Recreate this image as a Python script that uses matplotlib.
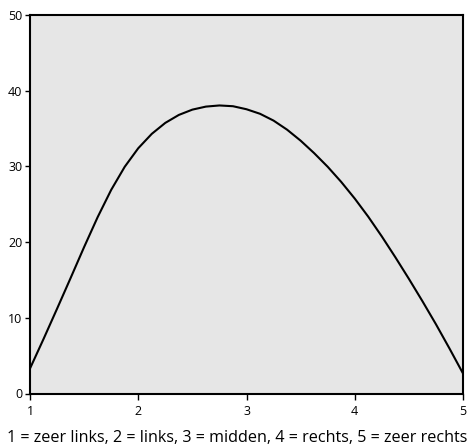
import numpy as np
import matplotlib.pyplot as plt

x_waarden = [1.0, 1.125, 1.25, 1.375, 1.5, 1.625, 1.75, 1.875, 2.0,
             2.125, 2.25, 2.375, 2.5, 2.625, 2.75, 2.875, 3.0,
             3.125, 3.25, 3.375, 3.5, 3.625, 3.75, 3.875, 4.0,
             4.125, 4.25, 4.375, 4.5, 4.625, 4.75, 4.875, 5.0]
y_waarden = [3.3, 7.2, 11.2, 15.25, 19.35, 23.3, 26.9, 29.95, 32.4,
             34.3, 35.75, 36.8, 37.5, 37.9, 38.05, 37.95, 37.55,
             36.95, 36.05, 34.85, 33.4, 31.75, 29.95, 27.95, 25.75,
             23.35, 20.75, 18.0, 15.15, 12.2, 9.15, 5.95, 2.65]

x_ticks = [1, 2, 3, 4, 5]
y_ticks = [0, 10, 20, 30, 40, 50]
x_label = "1 = zeer links, 2 = links, 3 = midden, 4 = rechts, 5 = zeer rechts"

plt.rcParams['font.family'] = ['Open Sans', 'DejaVu Sans']

fig = plt.figure(figsize=(4.75, 4.46), dpi=100)
ax = fig.add_axes([30 / 475, 52.5 / 446, 433 / 475, 378.5 / 446])
ax.set_facecolor("#e6e6e6")

ax.plot(x_waarden, y_waarden, color="black", linewidth=1.5,
        solid_joinstyle="round", solid_capstyle="butt")

ax.set_xlim(1, 5)
ax.set_ylim(0, 50)
ax.set_xticks(x_ticks)
ax.set_yticks(y_ticks)
ax.tick_params(axis="y", direction="out", length=3.5, width=1, labelsize=9, pad=2)
ax.tick_params(axis="x", direction="out", length=4.5, width=1, labelsize=9, pad=3.5)

for s in ax.spines.values():
    s.set_linewidth(1.5)
    s.set_color("black")

# as-label onderaan
fig.text(0.5, 4.5 / 446, x_label, ha="center", va="baseline", fontsize=11.6)

fig.savefig("out.png", dpi=100)
